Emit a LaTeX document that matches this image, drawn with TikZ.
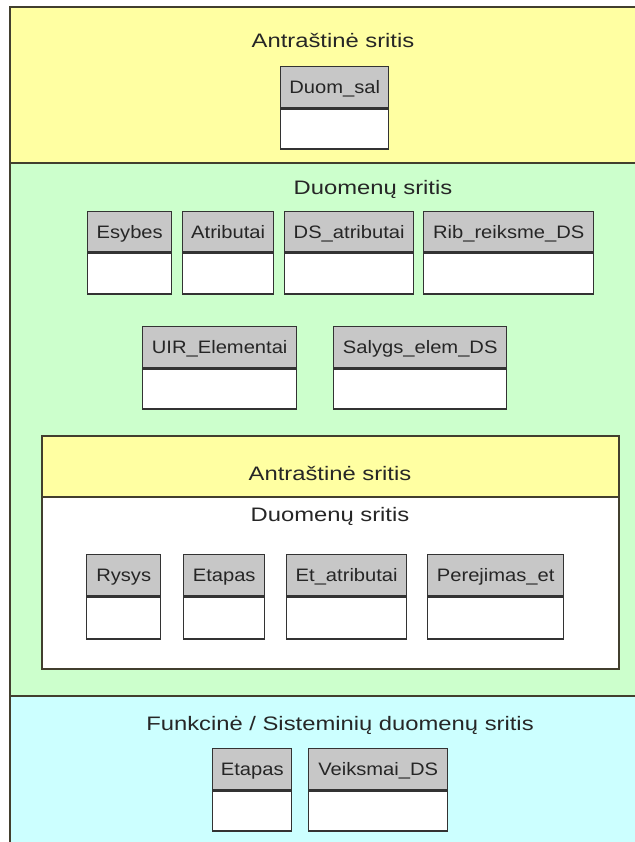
\documentclass[tikz,border=0pt]{standalone}
\usepackage{fontspec}
\setmainfont{Liberation Sans}
\newfontfamily\titlefont[FakeStretch=1.22]{Liberation Sans}
\newfontfamily\labelfont[FakeStretch=1.12]{Liberation Sans}
\begin{document}
\begin{tikzpicture}[x=1pt,y=-1pt,
  region/.style={draw=black!70!olive, line width=1.5pt},
  areatitle/.style={font=\titlefont\fontsize{19.5}{22}\selectfont, text=black!85,
    inner sep=0pt, anchor=base},
  hdrbox/.style={draw=black!80, fill=black!22, line width=1.4pt, inner sep=0pt,
    font=\labelfont\fontsize{18}{20}\selectfont, text=black!85,
    text height=13pt, text depth=0pt},
  bodybox/.style={draw=black!80, fill=white, line width=1.4pt, inner sep=0pt}]
\definecolor{hdryellow}{HTML}{FFFFA2}
\definecolor{datagreen}{HTML}{CCFFCC}
\definecolor{syscyan}{HTML}{CCFFFF}
\useasboundingbox (0,0) rectangle (634,842);
% #1 name, #2 left, #3 top, #4 right, #5 divider, #6 bottom, #7 label
\newcommand\entitybox[7]{%
  \node[hdrbox, minimum width=#4pt-#2pt, minimum height=#5pt-#3pt, anchor=north west]
    (#1) at (#2,#3) {#7};
  \node[bodybox, minimum width=#4pt-#2pt, minimum height=#6pt-#5pt, anchor=north]
    (#1-body) at (#1.south) {};}
% page areas
\draw[region, fill=hdryellow] (10,7) rectangle (660,163);
\draw[region, fill=datagreen] (10,163) rectangle (660,696);
\draw[region, fill=syscyan] (10,696) rectangle (660,870);
% header area
\node[areatitle] (t-head) at (333,48) {Antraštinė sritis};
\entitybox{duomsal}{280}{66}{388}{107}{147}{Duom\_sal}
% data area
\node[areatitle] (t-data) at (373,195) {Duomenų sritis};
\entitybox{esybes}{87}{211}{171}{251}{292}{Esybes}
\entitybox{atributai}{182}{211}{273}{251}{292}{Atributai}
\entitybox{dsatr}{284}{211}{413}{251}{292}{DS\_atributai}
\entitybox{ribds}{423}{211}{593}{251}{292}{Rib\_reiksme\_DS}
\entitybox{uir}{142}{326}{296}{367}{407}{UIR\_Elementai}
\entitybox{salygs}{333}{326}{506}{367}{407}{Salygs\_elem\_DS}
% nested sub-form
\draw[region, fill=hdryellow] (42,436) rectangle (619,497);
\draw[region, fill=white] (42,497) rectangle (619,669);
\node[areatitle] (t-subhead) at (330,480) {Antraštinė sritis};
\node[areatitle] (t-subdata) at (330,521) {Duomenų sritis};
\entitybox{rysys}{86}{554}{160}{595}{637}{Rysys}
\entitybox{etapas}{183}{554}{264}{595}{637}{Etapas}
\entitybox{etatr}{286}{554}{406}{595}{637}{Et\_atributai}
\entitybox{perej}{427}{554}{563}{595}{637}{Perejimas\_et}
% system area
\node[areatitle] (t-sys) at (340,730) {Funkcinė / Sisteminių duomenų sritis};
\entitybox{etapas2}{212}{748}{291}{789}{829}{Etapas}
\entitybox{veiksmai}{308}{748}{447}{789}{829}{Veiksmai\_DS}
\end{tikzpicture}
\end{document}
